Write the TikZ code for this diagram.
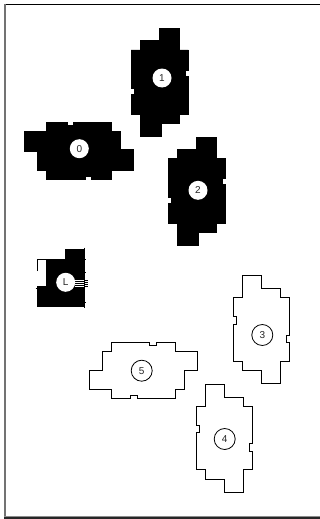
\documentclass[tikz,border=0pt]{standalone}
\usepackage{fontspec}
\setmainfont{Liberation Sans}
\tikzset{
  solidroom/.style={fill=black,draw=black,line width=0.8pt},
  openroom/.style={draw=black,line width=0.9pt},
  darkbadge/.style={circle,fill=white,draw=none,inner sep=0pt,minimum size=19pt,font=\fontsize{10}{10}\selectfont,text=black!85},
  lightbadge/.style={circle,fill=white,draw=black,line width=0.8pt,inner sep=0pt,minimum size=21pt,font=\fontsize{10}{10}\selectfont,text=black!85},
}
\begin{document}
\begin{tikzpicture}[x=1pt,y=-1pt]
\useasboundingbox (0,0) rectangle (320,519);
% frame
\draw[black,line width=1.2pt] (4,4.5) -- (320,4.5);
\draw[black!55,line width=1.6pt] (5,4) -- (5,518);
\draw[black!45,line width=1pt] (4,516.8) -- (320,516.8);
\draw[black!85,line width=1.6pt] (4,518.2) -- (320,518.2);
% room 0
\draw[solidroom] (46.7,122) -- (67,122) -- (67,125) -- (73,125) -- (73,122) -- (111.3,122) -- (111.3,131.3) -- (120.7,131.3) -- (120.7,149.7) -- (133.3,149.7) -- (133.3,170) -- (111.3,170) -- (111.3,179.3) -- (91,179.3) -- (91,176.3) -- (85,176.3) -- (85,179.3) -- (46.7,179.3) -- (46.7,170) -- (37.3,170) -- (37.3,151.3) -- (24.7,151.3) -- (24.7,131) -- (46.7,131) -- cycle;
% room 1
\draw[solidroom] (159,28.3) -- (179.3,28.3) -- (179.3,50) -- (188.3,50) -- (188.3,70) -- (185,70) -- (185,76) -- (188.3,76) -- (188.3,114.3) -- (179.3,114.3) -- (179.3,123.7) -- (161,123.7) -- (161,136.3) -- (140.7,136.3) -- (140.7,114.3) -- (131,114.3) -- (131,94.3) -- (134.3,94.3) -- (134.3,88.7) -- (131,88.7) -- (131,50) -- (140.7,50) -- (140.7,40.7) -- (159,40.7) -- cycle;
% room 2
\draw[solidroom,shift={(37,108.7)}] (159,28.3) -- (179.3,28.3) -- (179.3,50) -- (188.3,50) -- (188.3,70) -- (185,70) -- (185,76) -- (188.3,76) -- (188.3,114.3) -- (179.3,114.3) -- (179.3,123.7) -- (161,123.7) -- (161,136.3) -- (140.7,136.3) -- (140.7,114.3) -- (131,114.3) -- (131,94.3) -- (134.3,94.3) -- (134.3,88.7) -- (131,88.7) -- (131,50) -- (140.7,50) -- (140.7,40.7) -- (159,40.7) -- cycle;
% room L
\draw[solidroom] (65,249.3) -- (84,249.3) -- (84,306.7) -- (37.3,306.7) -- (37.3,286.7) -- (46.7,286.7) -- (46.7,259.3) -- (65,259.3) -- cycle;
\draw[black,line width=1pt] (37.8,271) -- (37.8,259.6) -- (47,259.6);
\draw[black,line width=0.5pt] (84.5,247.5) -- (84.5,308);
\draw[black,line width=0.5pt] (35.5,288) -- (38,288);
\draw[black,line width=0.5pt] (84,259) -- (86,259) (84,272) -- (86,272) (84,302) -- (86,302);
% room 3
\draw[openroom] (242.7,275.7) -- (261.7,275.7) -- (261.7,288.3) -- (280.3,288.3) -- (280.3,297.7) -- (289.3,297.7) -- (289.3,335) -- (286,335) -- (286,342.3) -- (289.3,342.3) -- (289.3,361) -- (280.3,361) -- (280.3,383.3) -- (261,383.3) -- (261,370.3) -- (242.7,370.3) -- (242.7,361) -- (233.3,361) -- (233.3,324) -- (236.7,324) -- (236.7,316.7) -- (233.3,316.7) -- (233.3,297.7) -- (242.7,297.7) -- cycle;
% room 4
\draw[openroom,shift={(-37,108.7)}] (242.7,275.7) -- (261.7,275.7) -- (261.7,288.3) -- (280.3,288.3) -- (280.3,297.7) -- (289.3,297.7) -- (289.3,335) -- (286,335) -- (286,342.3) -- (289.3,342.3) -- (289.3,361) -- (280.3,361) -- (280.3,383.3) -- (261,383.3) -- (261,370.3) -- (242.7,370.3) -- (242.7,361) -- (233.3,361) -- (233.3,324) -- (236.7,324) -- (236.7,316.7) -- (233.3,316.7) -- (233.3,297.7) -- (242.7,297.7) -- cycle;
% room 5
\draw[openroom] (111.7,342.3) -- (149,342.3) -- (149,345.3) -- (156.3,345.3) -- (156.3,342.3) -- (175.3,342.3) -- (175.3,351.3) -- (197.3,351.3) -- (197.3,370.3) -- (184.7,370.3) -- (184.7,389) -- (175.3,389) -- (175.3,398) -- (137.7,398) -- (137.7,395) -- (130.3,395) -- (130.3,398) -- (111.7,398) -- (111.7,389) -- (89.7,389) -- (89.7,370) -- (102.3,370) -- (102.3,351.3) -- (111.7,351.3) -- cycle;
% badges
\node[darkbadge] (n0) at (79.3,148.7) {0};
\node[darkbadge] (n1) at (162,78) {1};
\node[darkbadge] (n2) at (198,190.3) {2};
\node[darkbadge] (nL) at (65.7,282.3) {L};
\node[lightbadge] (n3) at (262.3,335) {3};
\node[lightbadge] (n4) at (224.7,439) {4};
\node[lightbadge] (n5) at (141.7,370.7) {5};
% hatch by L
\foreach \yy in {280.3,282.3,284.3,286.3}{
  \draw[white,line width=0.5pt] (75,\yy) -- (84,\yy);
  \draw[black,line width=0.5pt] (84,\yy) -- (88,\yy);
}
\end{tikzpicture}
\end{document}
